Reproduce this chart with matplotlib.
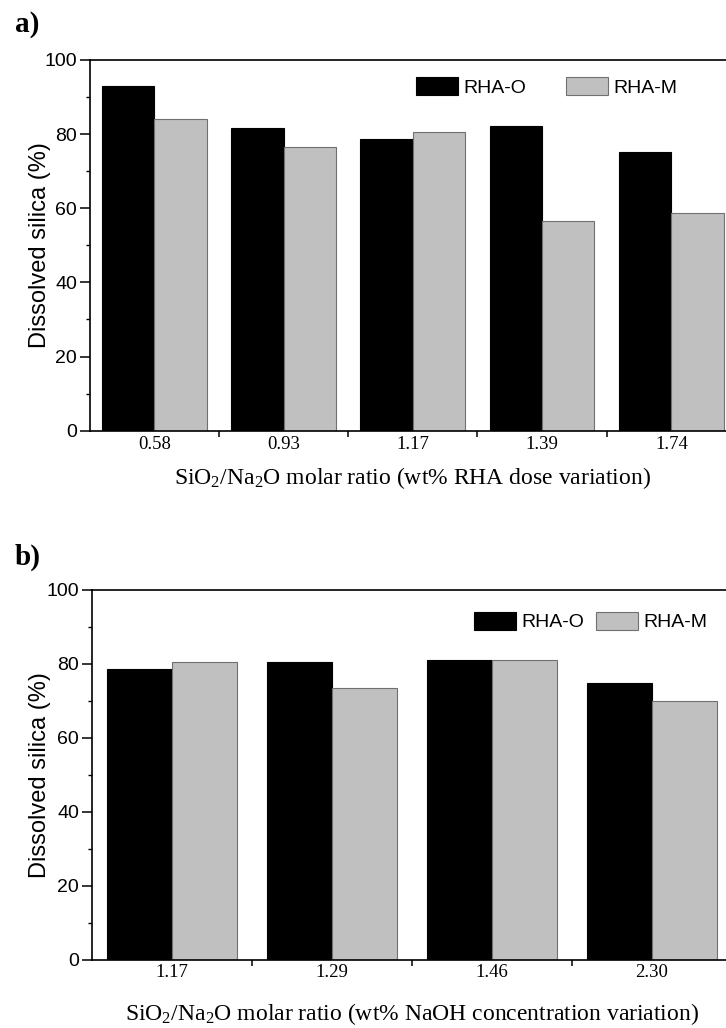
import matplotlib

matplotlib.use("Agg")

import numpy as np
import matplotlib.pyplot as plt
from matplotlib.transforms import blended_transform_factory

# panel a: RHA dose variation
ratios_a = ["0.58", "0.93", "1.17", "1.39", "1.74"]
rha_o_a = [93.1, 81.6, 78.7, 82.1, 75.3]
rha_m_a = [84.2, 76.4, 80.6, 56.6, 58.6]

# panel b: NaOH concentration variation
ratios_b = ["1.17", "1.29", "1.46", "2.30"]
rha_o_b = [78.6, 80.4, 81.1, 74.9]
rha_m_b = [80.6, 73.4, 81.1, 69.9]

series_names = ["RHA-O", "RHA-M"]

plt.rcParams["font.family"] = "Liberation Sans"
plt.rcParams["mathtext.fontset"] = "custom"
plt.rcParams["mathtext.rm"] = "Liberation Serif"
plt.rcParams["mathtext.it"] = "Liberation Serif:italic"
plt.rcParams["mathtext.bf"] = "Liberation Serif:bold"

W, H = 726, 1028
fig = plt.figure(figsize=(W / 100, H / 100), dpi=100)


def _panel(rect, labels, vals_o, vals_m, xlabel, xpad, leg_xy, colspace, tag, tag_xy):
    ax = fig.add_axes(rect)
    x = np.arange(len(labels))
    w = 0.405
    ax.bar(x - w / 2, vals_o, w, color="black", edgecolor="black", linewidth=0.8, label=series_names[0])
    ax.bar(x + w / 2, vals_m, w, color="#c0c0c0", edgecolor="#707070", linewidth=0.8, label=series_names[1])

    ax.set_xlim(-0.5, len(labels) - 0.5)
    ax.set_ylim(0, 100)
    ax.set_yticks([0, 20, 40, 60, 80, 100])
    ax.set_yticks([10, 30, 50, 70, 90], minor=True)
    # tick marks between groups, labels under group centres
    ax.set_xticks(np.arange(len(labels) - 1) + 0.5)
    ax.set_xticklabels([])
    ax.set_xticks(x, minor=True)
    ax.set_xticklabels(labels, minor=True, fontfamily="Liberation Serif", fontsize=13.5)
    ax.tick_params(axis="x", which="minor", length=0, pad=3.5)
    ax.tick_params(axis="x", which="major", direction="out", length=4, width=1.1)
    ax.tick_params(axis="y", which="major", direction="out", length=7, width=1.1, labelsize=14, pad=2)
    ax.tick_params(axis="y", which="minor", direction="out", length=3, width=1.0)
    for s in ["top", "left", "bottom", "right"]:
        ax.spines[s].set_linewidth(1.2)

    ax.set_ylabel("Dissolved silica (%)", fontsize=17)
    ax.yaxis.set_label_coords(51 / W, 0.5, transform=blended_transform_factory(fig.transFigure, ax.transAxes))
    ax.set_xlabel(xlabel, fontfamily="Liberation Serif", fontsize=17, labelpad=xpad)

    ax.legend(
        loc="upper left",
        bbox_to_anchor=(leg_xy[0] / W, 1 - leg_xy[1] / H),
        bbox_transform=fig.transFigure,
        ncol=2,
        frameon=False,
        fontsize=14,
        handlelength=2.16,
        handleheight=1.08,
        handletextpad=0.3,
        columnspacing=colspace,
        borderpad=0,
        borderaxespad=0,
    )
    fig.text(tag_xy[0] / W, 1 - tag_xy[1] / H, tag, fontfamily="Liberation Serif",
             fontweight="bold", fontsize=21, ha="left", va="center")
    return ax


_panel(
    [89.7 / W, 1 - 430.7 / H, 646.3 / W, 370.7 / H],
    ratios_a, rha_o_a, rha_m_a,
    r"SiO$_\mathrm{2}$/Na$_\mathrm{2}$O molar ratio (wt% RHA dose variation)", 9,
    (416, 77), 2.0, "a)", (15, 25),
)
_panel(
    [91.7 / W, 1 - 959.5 / H, 640 / W, 369.5 / H],
    ratios_b, rha_o_b, rha_m_b,
    r"SiO$_\mathrm{2}$/Na$_\mathrm{2}$O molar ratio (wt% NaOH concentration variation)", 14,
    (474, 611.5), 0.57, "b)", (15, 557),
)

fig.savefig("out.png", dpi=100)
